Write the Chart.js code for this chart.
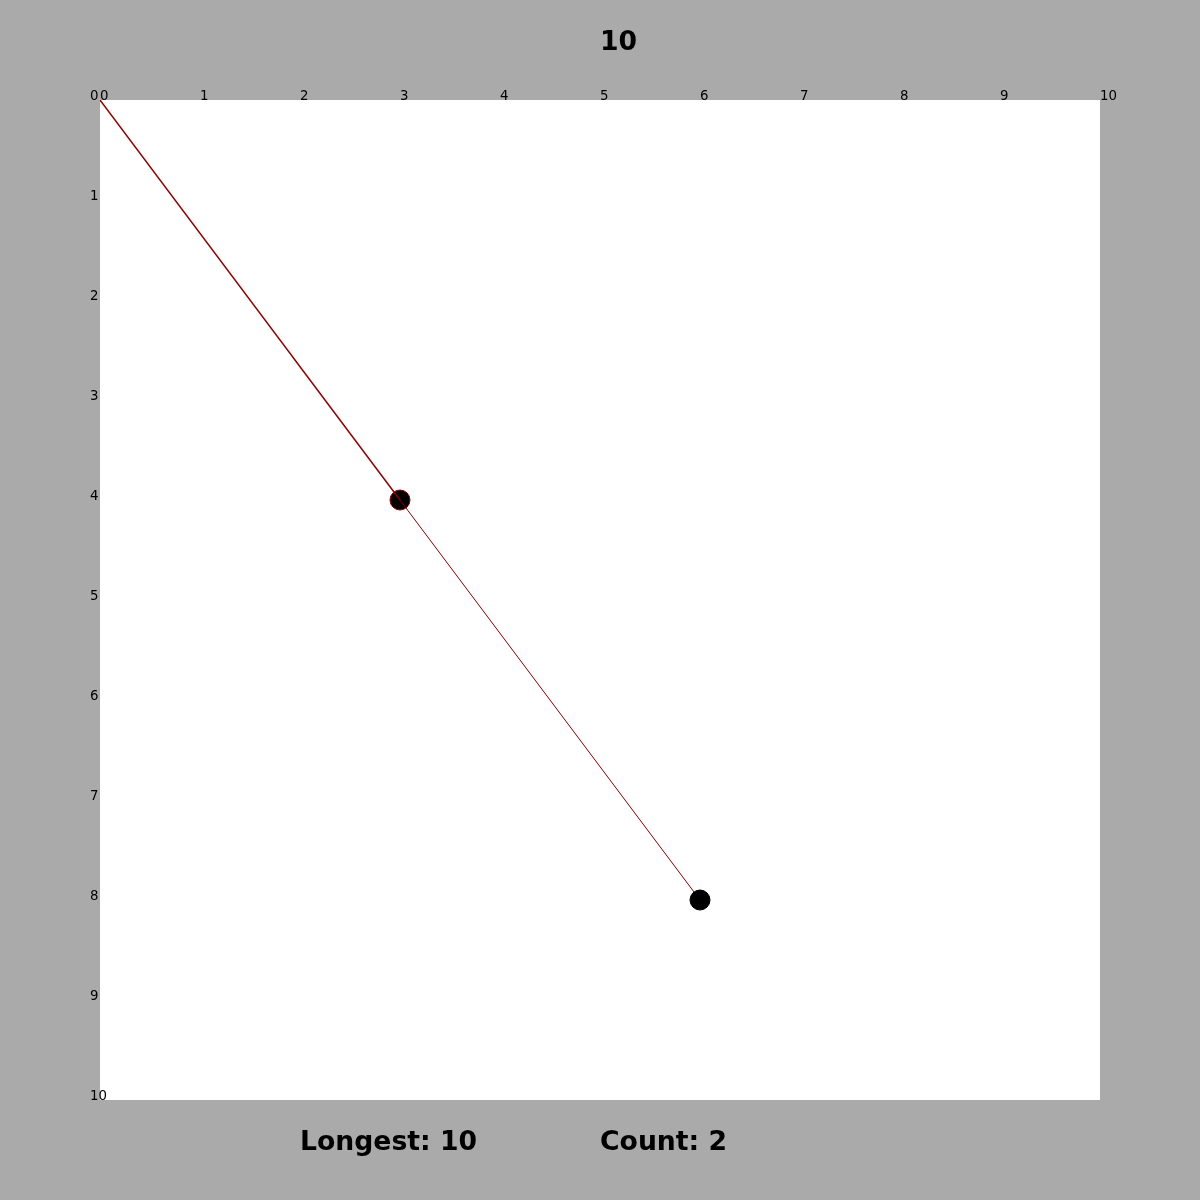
<!DOCTYPE html>
<html>
<head>
<meta charset="utf-8">
<script src="https://cdn.jsdelivr.net/npm/chart.js@4/dist/chart.umd.min.js"></script>
<style>
  html, body { margin: 0; padding: 0; background: #aaaaaa; }
  #wrap { width: 1200px; height: 1200px; }
</style>
</head>
<body>
<div id="wrap"><canvas id="c" width="1200" height="1200"></canvas></div>
<script>
// ---- data ----
const pathX = [0, 3, 6];
const pathY = [0, 4, 8];
const visitedX = [3];
const visitedY = [4];
const currentX = [6];
const currentY = [8];
const tickValues = [0, 1, 2, 3, 4, 5, 6, 7, 8, 9, 10];
const titleText = "10";
const longestValue = 10;
const countValue = 2;

const toPts = (xs, ys) => xs.map((x, i) => ({ x: x, y: ys[i] }));

const bgPlugin = {
  id: 'bg',
  beforeDraw(chart) {
    const { ctx, chartArea } = chart;
    ctx.save();
    ctx.fillStyle = '#aaaaaa';
    ctx.fillRect(0, 0, chart.width, chart.height);
    ctx.fillStyle = '#ffffff';
    ctx.fillRect(chartArea.left, chartArea.top, chartArea.right - chartArea.left, chartArea.bottom - chartArea.top);
    ctx.restore();
  },
  afterDraw(chart) {
    const { ctx } = chart;
    ctx.save();
    ctx.fillStyle = '#000000';
    ctx.font = 'bold 26.67px "DejaVu Sans"';
    ctx.textAlign = 'left';
    ctx.textBaseline = 'alphabetic';
    ctx.fillText(titleText, 600, 50);
    ctx.fillText('Longest: ' + longestValue, 300, 1150);
    ctx.fillText('Count: ' + countValue, 600, 1150);
    ctx.restore();
  }
};

const tickFont = { family: 'DejaVu Sans', size: 13.33 };
const lineColor = '#8b0000';

new Chart(document.getElementById('c'), {
  type: 'scatter',
  data: {
    datasets: [
      {
        label: 'visited',
        data: toPts(visitedX, visitedY),
        pointRadius: 10,
        pointHoverRadius: 10,
        backgroundColor: '#000000',
        borderColor: lineColor,
        borderWidth: 1,
        showLine: false,
        order: 2
      },
      {
        label: 'path',
        data: toPts(pathX, pathY),
        showLine: true,
        pointRadius: 0,
        pointHoverRadius: 0,
        borderColor: lineColor,
        borderWidth: 1,
        fill: false,
        tension: 0,
        segment: {
          borderWidth: ctx => ctx.p0DataIndex === 0 ? 1.5 : 1
        },
        order: 1
      },
      {
        label: 'current',
        data: toPts(currentX, currentY),
        pointRadius: 10,
        pointHoverRadius: 10,
        backgroundColor: '#000000',
        borderColor: '#000000',
        borderWidth: 1,
        showLine: false,
        order: 0
      }
    ]
  },
  options: {
    responsive: false,
    animation: false,
    devicePixelRatio: 1,
    layout: { padding: { top: 0, left: 100, right: 100, bottom: 100 } },
    plugins: {
      legend: { display: false },
      title: { display: false },
      tooltip: { enabled: false }
    },
    events: [],
    scales: {
      x: {
        type: 'linear',
        position: 'top',
        min: 0,
        max: 10,
        grid: { display: false, drawTicks: false },
        border: { display: false },
        afterFit: s => { s.height = 100; },
        afterBuildTicks: s => { s.ticks = tickValues.map(v => ({ value: v })); },
        ticks: {
          autoSkip: false,
          maxRotation: 0,
          minRotation: 0,
          align: 'start',
          padding: -5,
          color: '#000000',
          font: tickFont
        }
      },
      y: {
        type: 'linear',
        position: 'left',
        reverse: true,
        min: 0,
        max: 10,
        grid: { display: false, drawTicks: false },
        border: { display: false },
        afterFit: s => { s.width = 0; },
        afterBuildTicks: s => { s.ticks = tickValues.map(v => ({ value: v })); },
        ticks: {
          autoSkip: false,
          mirror: true,
          align: 'end',
          labelOffset: 3,
          padding: -10,
          color: '#000000',
          font: tickFont
        }
      }
    }
  },
  plugins: [bgPlugin]
});
</script>
</body>
</html>
